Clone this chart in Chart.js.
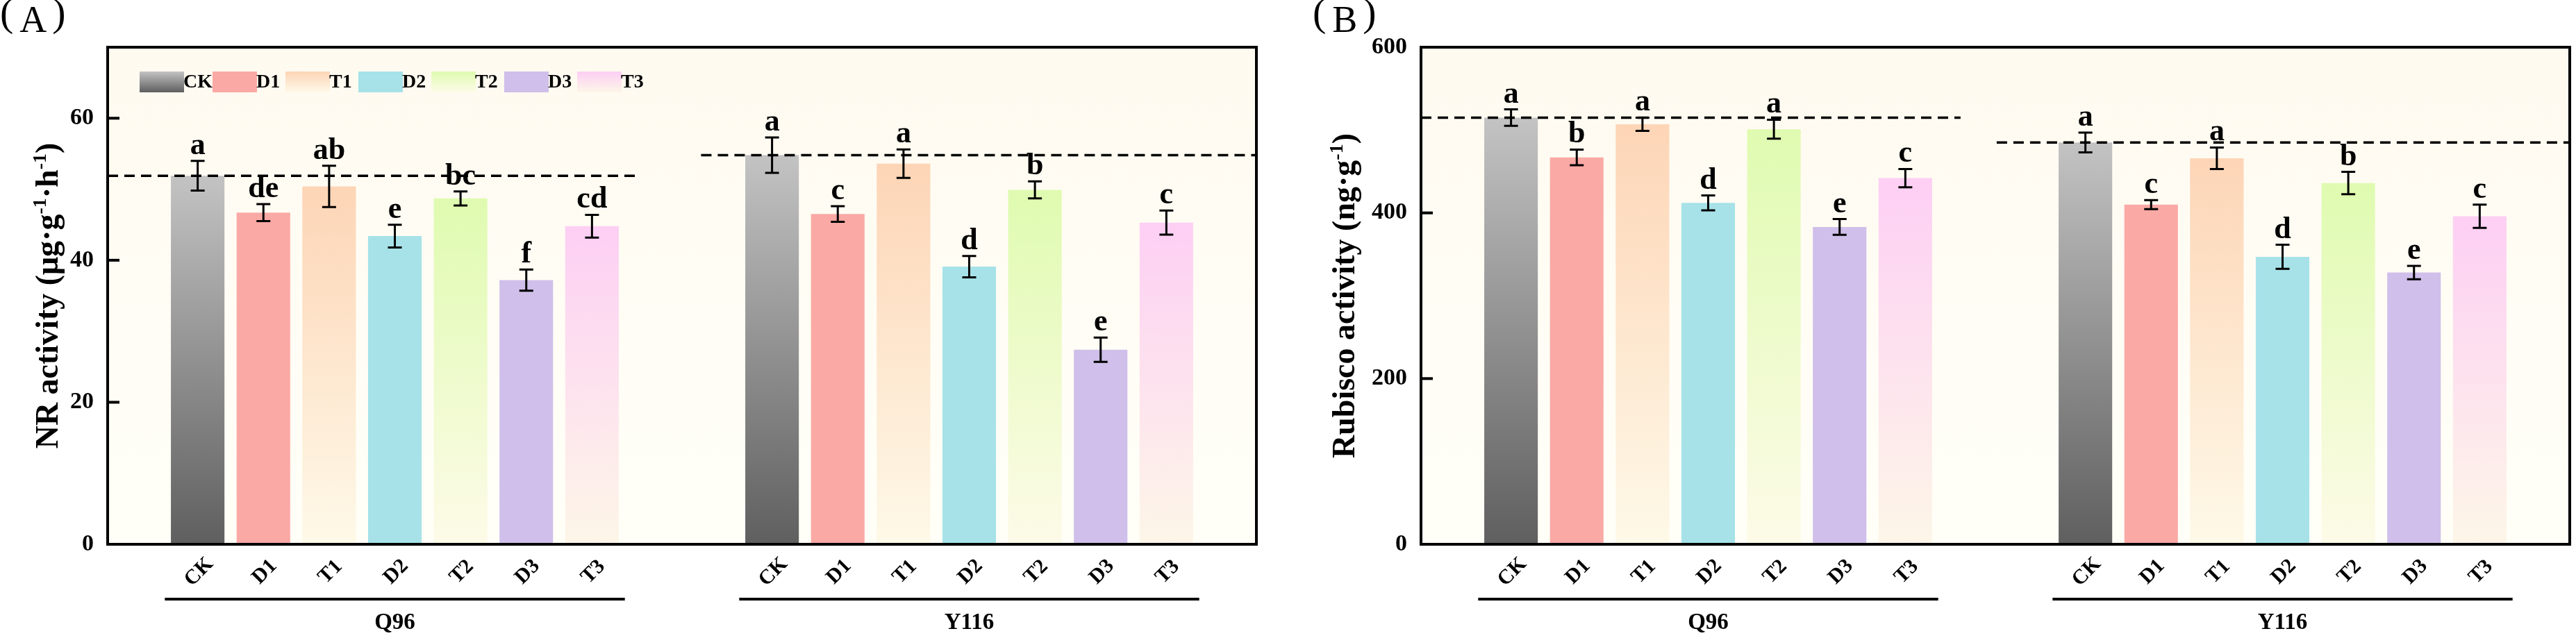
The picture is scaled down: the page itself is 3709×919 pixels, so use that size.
<!DOCTYPE html>
<html>
<head>
<meta charset="utf-8">
<script src="https://cdn.jsdelivr.net/npm/chart.js@4.4.1/dist/chart.umd.min.js"></script>
<style>
  html, body { margin: 0; padding: 0; background: #fff; }
  #wrap { position: relative; width: 3709px; height: 919px; }
  canvas { position: absolute; top: 0; }
  #nr { left: 0; }
  #rub { left: 1855px; }
</style>
</head>
<body>
<div id="wrap">
  <canvas id="nr" width="1855" height="919"></canvas>
  <canvas id="rub" width="1854" height="919"></canvas>
</div>
<script>
// categories
const treatments = ['CK', 'D1', 'T1', 'D2', 'T2', 'D3', 'T3'];
const cultivars = ['Q96', 'Y116'];

// (A) NR activity
const nrQ96 = [51.9, 46.7, 50.4, 43.4, 48.7, 37.2, 44.8];
const nrQ96Err = [2.1, 1.2, 2.9, 1.6, 1.0, 1.5, 1.6];
const nrY116 = [54.8, 46.5, 53.6, 39.1, 49.9, 27.4, 45.3];
const nrY116Err = [2.5, 1.1, 2.0, 1.5, 1.2, 1.7, 1.7];
const nrQ96Letters = ['a', 'de', 'ab', 'e', 'bc', 'f', 'cd'];
const nrY116Letters = ['a', 'c', 'a', 'd', 'b', 'e', 'c'];
const nrTicks = [0, 20, 40, 60];

// (B) Rubisco activity
const rubQ96 = [515, 467, 507, 412, 501, 383, 442];
const rubQ96Err = [10, 9.5, 8, 9, 11.5, 9.5, 11];
const rubY116 = [485, 410, 466, 347, 436, 328, 396];
const rubY116Err = [12, 5.5, 13, 14.5, 13.5, 8, 14];
const rubQ96Letters = ['a', 'b', 'a', 'd', 'a', 'e', 'c'];
const rubY116Letters = ['a', 'c', 'a', 'd', 'b', 'e', 'c'];
const rubTicks = [0, 200, 400, 600];

// bar colours, top -> bottom of the bar
const barTop = ['#c3c3c3', '#fba9a5', '#fdd5b6', '#a6e2e8', '#dffbb0', '#cfbfea', '#fdcff4'];
const barBottom = ['#5f5f5f', '#fba9a5', '#fef9e8', '#a6e2e8', '#fdfbe8', '#cfbfea', '#fdf6e8'];

const SERIF = '"Liberation Serif", "Times New Roman", serif';
const LEAD = 1.37;  // space before first / after last bar, in bar slots
const GAP = 2.74;   // distance from last bar of one cultivar to first of the next
const xPos = (g, i) => g * (treatments.length - 1 + GAP) + i;

function barFill(ctx) {
  const raw = ctx.raw;
  const chart = ctx.chart;
  if (!raw) return barTop[0];
  const ys = chart.scales.y;
  if (!chart.chartArea || !ys) return barTop[raw.i];
  const top = ys.getPixelForValue(raw.y);
  const bottom = ys.getPixelForValue(0);
  const gr = chart.ctx.createLinearGradient(0, top, 0, bottom);
  gr.addColorStop(0, barTop[raw.i]);
  gr.addColorStop(1, barBottom[raw.i]);
  return gr;
}

function richText(ctx, parts, size) {
  // parts: [text, isSup]
  const widths = parts.map(p => {
    ctx.font = 'bold ' + (p[1] ? Math.round(size * 0.6) : size) + 'px ' + SERIF;
    return ctx.measureText(p[0]).width;
  });
  let x = -widths.reduce((a, b) => a + b, 0) / 2;
  parts.forEach((p, k) => {
    ctx.font = 'bold ' + (p[1] ? Math.round(size * 0.6) : size) + 'px ' + SERIF;
    ctx.fillText(p[0], x, p[1] ? -size * 0.38 : 0);
    x += widths[k];
  });
}

function panelPlugin(o) {
  return {
    id: 'panel_' + o.id,
    beforeDatasetsDraw(chart) {
      const {ctx, chartArea: a} = chart;
      const gr = ctx.createLinearGradient(0, a.top, 0, a.bottom);
      gr.addColorStop(0, '#fffaf0');
      gr.addColorStop(1, '#fffff8');
      ctx.save();
      ctx.fillStyle = gr;
      ctx.fillRect(a.left, a.top, a.right - a.left, a.bottom - a.top);
      ctx.restore();
    },
    afterDatasetsDraw(chart) {
      const {ctx, chartArea: a, scales: {x: xs, y: ys}} = chart;
      ctx.save();
      // frame
      ctx.strokeStyle = '#000';
      ctx.lineWidth = 4;
      ctx.strokeRect(a.left, a.top, a.right - a.left, a.bottom - a.top);
      // inward ticks
      ys.ticks.forEach(t => {
        if (t.value <= ys.min || t.value >= ys.max) return;
        const y = ys.getPixelForValue(t.value);
        ctx.beginPath();
        ctx.moveTo(a.left, y);
        ctx.lineTo(a.left + 17, y);
        ctx.stroke();
      });
      // error bars + letters
      ctx.lineWidth = 3;
      ctx.fillStyle = '#000';
      ctx.textAlign = 'center';
      ctx.textBaseline = 'alphabetic';
      ctx.font = 'bold 44px ' + SERIF;
      o.values.forEach((vals, g) => vals.forEach((v, i) => {
        const px = xs.getPixelForValue(xPos(g, i));
        const e = o.errors[g][i];
        const yt = ys.getPixelForValue(v + e);
        const yb = ys.getPixelForValue(v - e);
        ctx.beginPath();
        ctx.moveTo(px, yt); ctx.lineTo(px, yb);
        ctx.moveTo(px - 10, yt); ctx.lineTo(px + 10, yt);
        ctx.moveTo(px - 10, yb); ctx.lineTo(px + 10, yb);
        ctx.stroke();
        ctx.fillText(o.letters[g][i], px, yt - 10);
      }));
      // legend inside the plot (panel A only)
      if (o.legend) {
        ctx.font = 'bold 28px ' + SERIF;
        ctx.textAlign = 'left';
        ctx.textBaseline = 'middle';
        treatments.forEach((name, i) => {
          const bx = a.left + 46 + i * 105;
          const by = 103;
          const gr = ctx.createLinearGradient(0, by, 0, by + 30);
          gr.addColorStop(0, barTop[i]);
          gr.addColorStop(1, barBottom[i]);
          ctx.fillStyle = gr;
          ctx.fillRect(bx, by, 64, 30);
          ctx.fillStyle = '#000';
          ctx.fillText(name, bx + 63, by + 16);
        });
      }
      ctx.restore();
    },
    afterDraw(chart) {
      const {ctx, chartArea: a, scales: {x: xs}} = chart;
      ctx.save();
      ctx.fillStyle = '#000';
      ctx.strokeStyle = '#000';
      // panel tag
      ctx.textAlign = 'left';
      ctx.textBaseline = 'alphabetic';
      let tx = o.tagX;
      ctx.font = '58px ' + SERIF;
      ctx.fillText('(', tx, 37);
      tx += ctx.measureText('(').width + 9;
      ctx.font = '54px ' + SERIF;
      ctx.fillText(o.tag, tx, 46);
      tx += ctx.measureText(o.tag).width + 8;
      ctx.font = '58px ' + SERIF;
      ctx.fillText(')', tx, 37);
      // y axis title
      ctx.save();
      ctx.translate(o.titleX, (a.top + a.bottom) / 2);
      ctx.rotate(-Math.PI / 2);
      ctx.textAlign = 'left';
      richText(ctx, o.title, 46);
      ctx.restore();
      // treatment labels, cultivar lines and names
      ctx.textAlign = 'center';
      ctx.textBaseline = 'middle';
      o.values.forEach((vals, g) => {
        ctx.font = 'bold 30px ' + SERIF;
        treatments.forEach((name, i) => {
          const px = xs.getPixelForValue(xPos(g, i));
          ctx.save();
          ctx.translate(px + 2, 824);
          ctx.rotate(-Math.PI / 4);
          ctx.fillText(name, 0, 0);
          ctx.restore();
        });
        const x0 = xs.getPixelForValue(xPos(g, 0) - 0.5);
        const x1 = xs.getPixelForValue(xPos(g, treatments.length - 1) + 0.5);
        ctx.lineWidth = 4;
        ctx.beginPath();
        ctx.moveTo(x0, 863);
        ctx.lineTo(x1, 863);
        ctx.stroke();
        ctx.font = 'bold 33px ' + SERIF;
        ctx.textBaseline = 'alphabetic';
        ctx.fillText(cultivars[g], (x0 + x1) / 2, 906);
        ctx.textBaseline = 'middle';
      });
      ctx.restore();
    }
  };
}

function makePanel(id, o) {
  const n = treatments.length;
  const xmin = -LEAD;
  const xmax = xPos(1, n - 1) + LEAD;
  const bars = [];
  o.values.forEach((vals, g) => vals.forEach((v, i) => bars.push({x: xPos(g, i), y: v, i: i})));
  // dashed reference line at each cultivar's CK level
  const dashes = o.values.map((vals, g) => ({
    type: 'line',
    data: g === 0
      ? [{x: xmin, y: vals[0]}, {x: xPos(0, n - 1) + o.dashOut, y: vals[0]}]
      : [{x: xPos(1, 0) - o.dashIn, y: vals[0]}, {x: xmax, y: vals[0]}],
    borderColor: '#000',
    borderWidth: 3.5,
    borderDash: [15, 9],
    pointRadius: 0,
    fill: false,
    order: 0
  }));
  return new Chart(document.getElementById(id), {
    type: 'bar',
    data: {
      datasets: [...dashes, {
        type: 'bar',
        data: bars,
        backgroundColor: barFill,
        borderWidth: 0,
        barPercentage: 0.815,
        categoryPercentage: 1,
        order: 1
      }]
    },
    options: {
      responsive: false,
      animation: false,
      devicePixelRatio: 1,
      layout: {padding: {left: 0, top: 68, right: o.padRight, bottom: 135}},
      plugins: {legend: {display: false}, tooltip: {enabled: false}},
      scales: {
        x: {type: 'linear', min: xmin, max: xmax, display: false, offset: false},
        y: {
          min: 0,
          max: o.yMax,
          afterFit: s => { s.width = o.axisWidth; },
          afterBuildTicks: s => { s.ticks = o.ticks.map(v => ({value: v})); },
          grid: {display: false, drawTicks: false},
          border: {display: false},
          ticks: {padding: 20, color: '#000', font: {family: SERIF, size: 34, weight: 'bold'}}
        }
      }
    },
    plugins: [panelPlugin(o)]
  });
}

makePanel('nr', {
  id: 'nr', tag: 'A', tagX: 0, legend: true,
  values: [nrQ96, nrY116], errors: [nrQ96Err, nrY116Err], letters: [nrQ96Letters, nrY116Letters],
  ticks: nrTicks, yMax: 70, axisWidth: 155, padRight: 46,
  dashOut: 0.69, dashIn: 1.08, titleX: 83,
  title: [['NR activity (\u03bcg\u00b7g', false], ['-1', true], ['\u00b7h', false], ['-1', true], [')', false]]
});

makePanel('rub', {
  id: 'rub', tag: 'B', tagX: 35, legend: false,
  values: [rubQ96, rubY116], errors: [rubQ96Err, rubY116Err], letters: [rubQ96Letters, rubY116Letters],
  ticks: rubTicks, yMax: 600, axisWidth: 191, padRight: 9,
  dashOut: 0.84, dashIn: 1.35, titleX: 95,
  title: [['Rubisco activity (ng\u00b7g', false], ['-1', true], [')', false]]
});
</script>
</body>
</html>
